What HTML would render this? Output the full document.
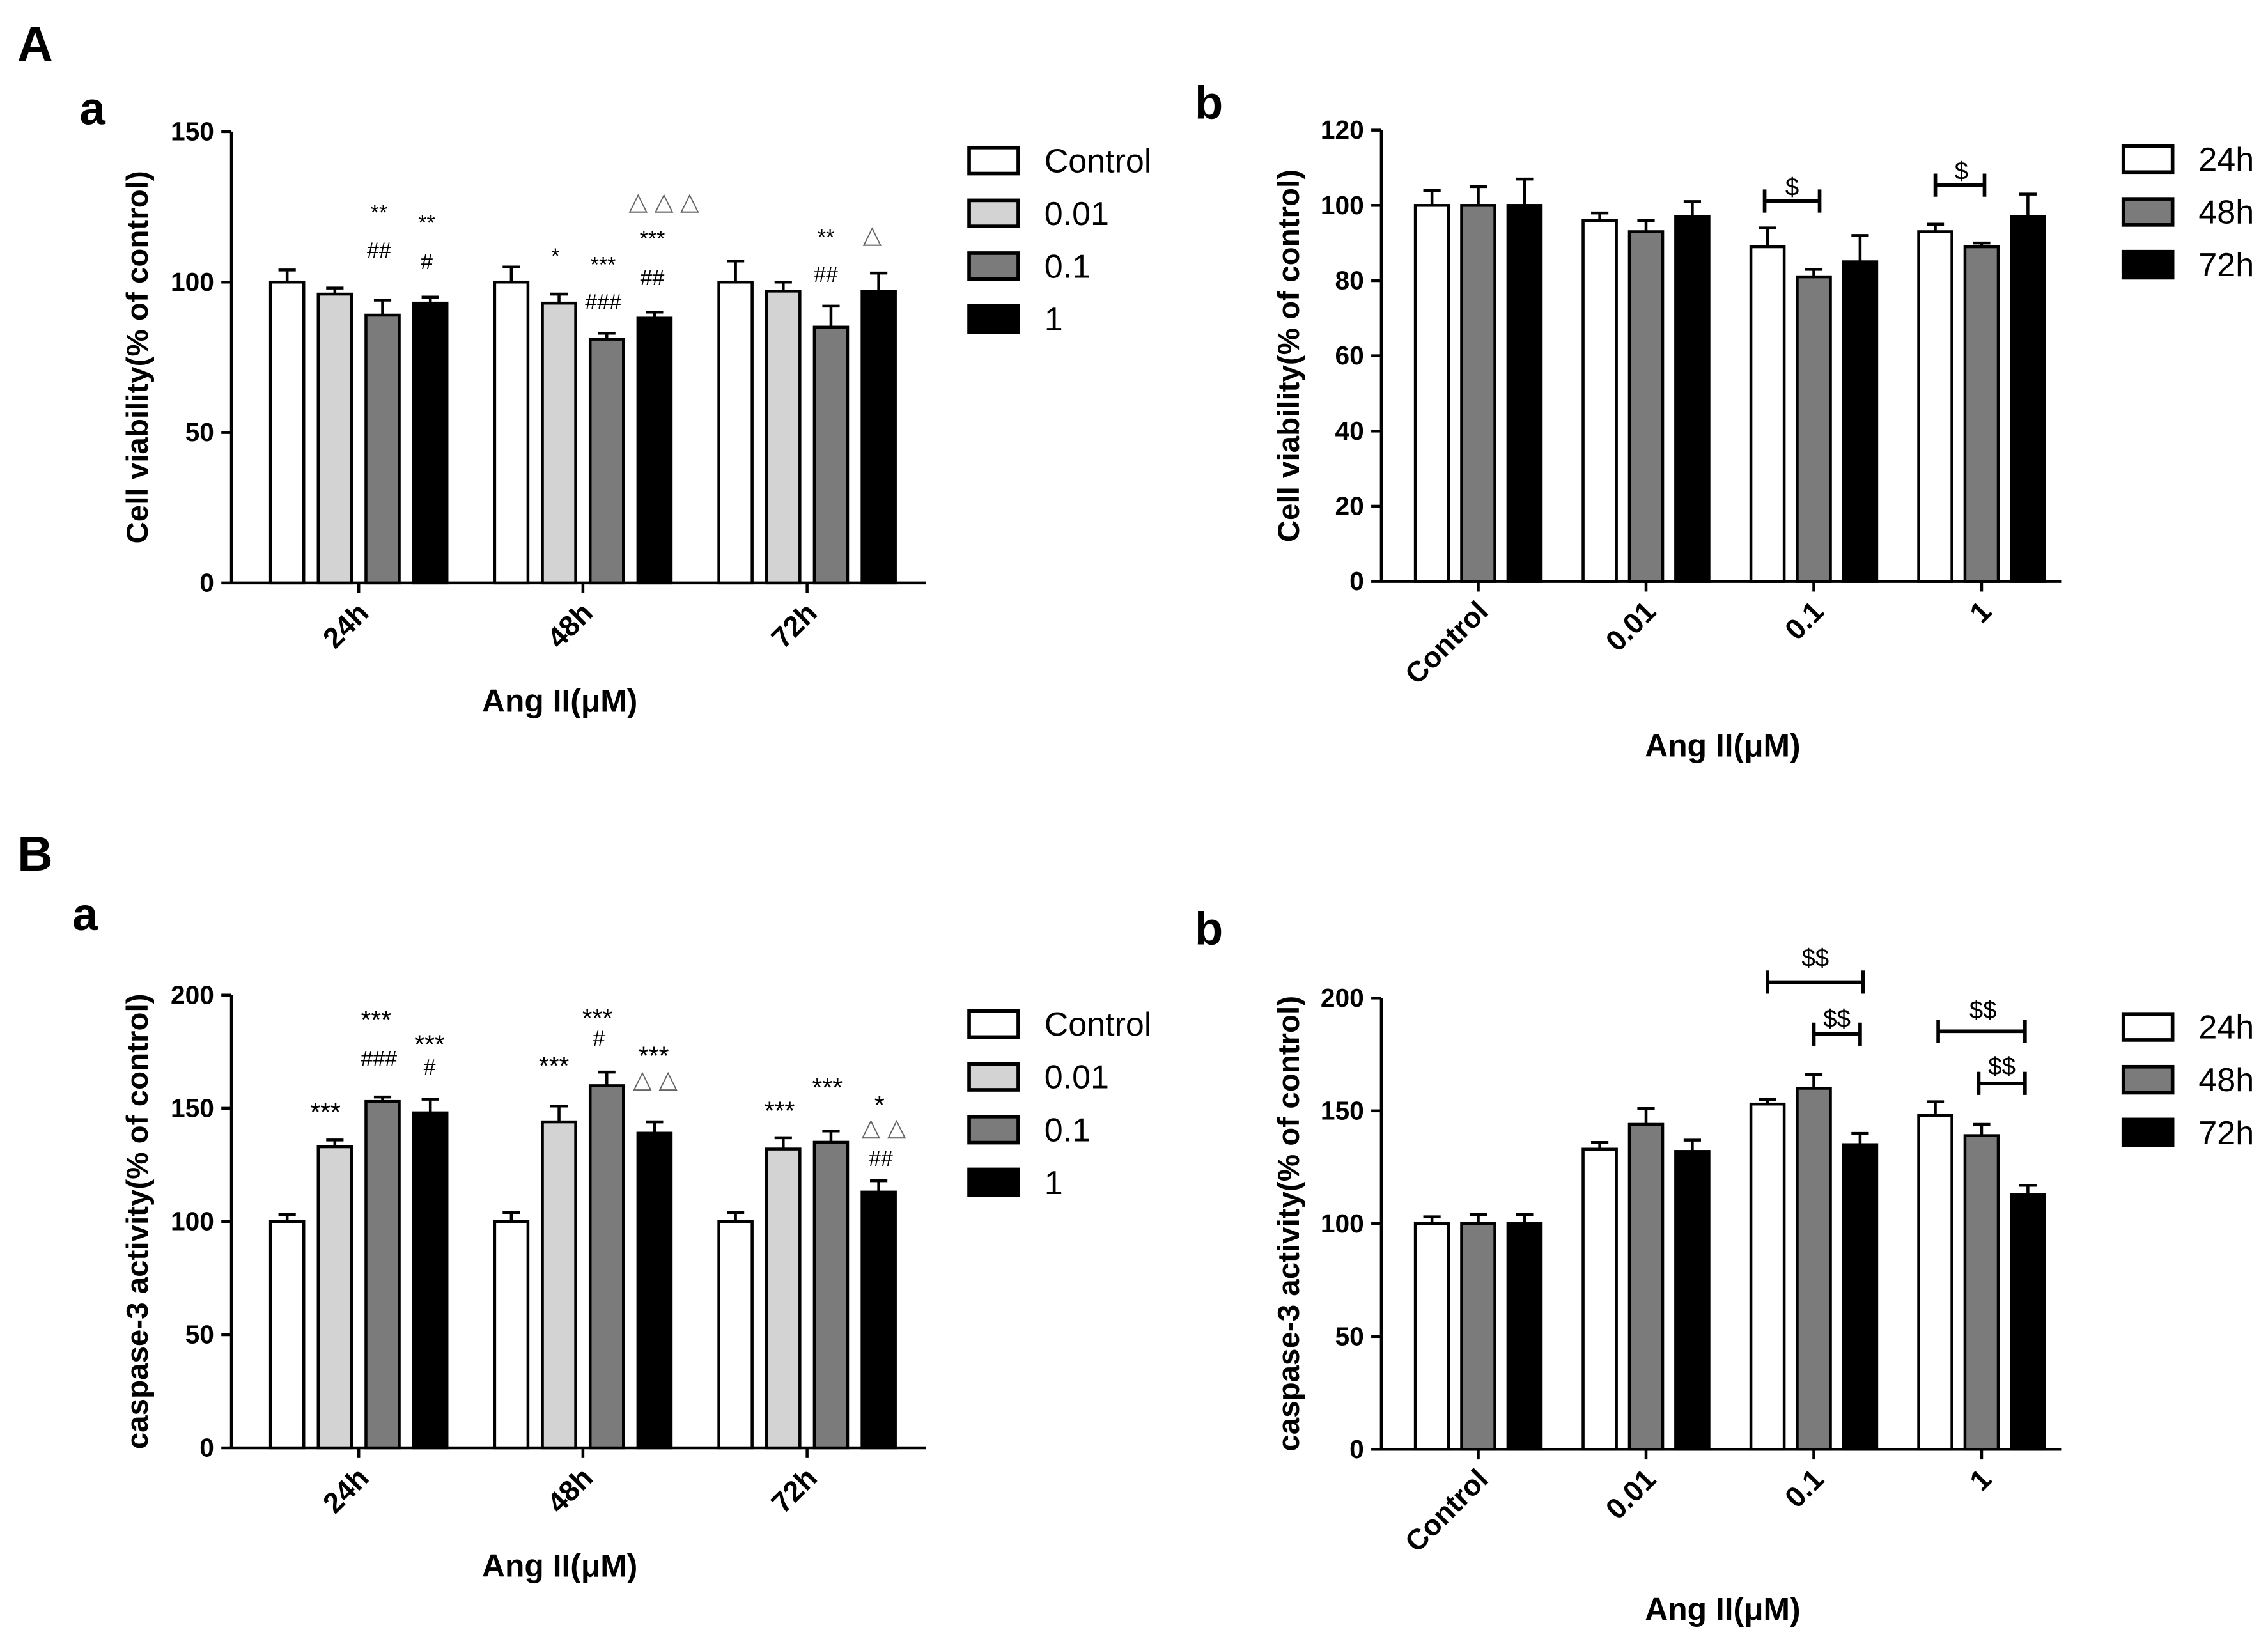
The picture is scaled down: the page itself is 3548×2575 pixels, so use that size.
<!DOCTYPE html>
<html><head><meta charset="utf-8"><style>
html,body{margin:0;padding:0;background:#fff}
svg{display:block}
text{font-family:"Liberation Sans",Arial,sans-serif}
</style></head><body>
<svg id="fig" width="3548" height="2575" viewBox="0 0 1568 1138" xmlns="http://www.w3.org/2000/svg">
<rect width="1568" height="1138" fill="#fff"/>
<g id="root"></g>
</svg>
<script>
// ---- data ----
const groupsTime = ["24h","48h","72h"];
const seriesDose = ["Control","0.01","0.1","1"];
const doseCats = ["Control","0.01","0.1","1"];
const seriesTime = ["24h","48h","72h"];
const viabByTime = [[100,96,89,93],[100,93,81,88],[100,97,85,97]];
const viabByTimeErr = [[4,2,5,2],[5,3,2,2],[7,3,7,6]];
const viabByDose = [[100,100,100],[96,93,97],[89,81,85],[93,89,97]];
const viabByDoseErr = [[4,5,7],[2,3,4],[5,2,7],[2,1,6]];
const caspByTime = [[100,133,153,148],[100,144,160,139],[100,132,135,113]];
const caspByTimeErr = [[3,3,2,6],[4,7,6,5],[4,5,5,5]];
const caspByDose = [[100,100,100],[133,144,132],[153,160,135],[148,139,113]];
const caspByDoseErr = [[3,4,4],[3,7,5],[2,6,5],[6,5,4]];
const ticksViabA = [0,50,100,150];
const ticksViabB = [0,20,40,60,80,100,120];
const ticksCasp = [0,50,100,150,200];

const fillsDose = ["#fff","#d3d3d3","#7b7b7b","#000"];
const fillsTime = ["#fff","#7b7b7b","#000"];
const NS="http://www.w3.org/2000/svg";
const root=document.getElementById('root');
function mk(tag,attrs,parent,txt){const e=document.createElementNS(NS,tag);for(const k in attrs)e.setAttribute(k,attrs[k]);if(txt!==undefined)e.textContent=txt;(parent||root).appendChild(e);return e;}

function panel(p){
  const g=mk('g',{});
  
  
  const y=v=>p.y0-(v-0)/p.ymax*(p.y0-p.ytop);
  const ya=mk('line',{x1:p.x0,y1:p.y0,x2:p.x0,y2:p.ytop,stroke:'#000','stroke-width':2},g);
  
  p.ticks.forEach(t=>{
    mk('line',{x1:p.x0-7,y1:y(t),x2:p.x0,y2:y(t),stroke:'#000','stroke-width':2},g);
    const tl=mk('text',{x:p.x0-12,y:y(t)+6,'text-anchor':'end','font-size':18,'font-weight':'bold'},g,t);
    
  });
  const xa=mk('line',{x1:p.x0,y1:p.y0,x2:p.x1,y2:p.y0,stroke:'#000','stroke-width':2},g);
  
  const n=p.cats.length, m=p.series.length;
  const gw=(p.gx1-p.gx0)/n;
  p.cats.forEach((c,i)=>{
    const cx=p.gx0+gw*(i+0.5);
    mk('line',{x1:cx,y1:p.y0,x2:cx,y2:p.y0+7,stroke:'#000','stroke-width':2},g);
    const tx=cx+8, ty=p.y0+22;
    const cl=mk('text',{x:tx,y:ty,'text-anchor':'end','font-size':20,'font-weight':'bold',transform:`rotate(-45 ${tx} ${ty})`},g,c);
    
    for(let j=0;j<m;j++){
      const bx=cx+(j-(m-1)/2)*p.step;
      const v=p.vals[i][j], e=p.errs[i][j];
      mk('line',{x1:bx,y1:y(v),x2:bx,y2:y(v+e),stroke:'#000','stroke-width':2},g);
      mk('line',{x1:bx-6,y1:y(v+e),x2:bx+6,y2:y(v+e),stroke:'#000','stroke-width':2},g);
      const b=mk('rect',{x:bx-p.bw/2,y:y(v),width:p.bw,height:p.y0-y(v),fill:p.fills[j],stroke:'#000','stroke-width':2},g);
      
    }
  });
  const xt=mk('text',{x:p.xTitleX,y:p.xTitleY,'text-anchor':'middle','font-size':22,'font-weight':'bold'},g,'Ang II(μM)');
  
  const yc=(p.y0+p.ytop)/2;
  const yt=mk('text',{x:p.yTitleX,y:yc,'text-anchor':'middle','font-size':21,'font-weight':'bold',transform:`rotate(-90 ${p.yTitleX} ${yc})`},g,p.ytitle);
  
  p.series.forEach((s,j)=>{
    const ly=p.legY+j*36.5;
    const lr=mk('rect',{x:p.legX,y:ly-9,width:34,height:18,fill:p.fills[j],stroke:'#000','stroke-width':2.5},g);
    
    const lt=mk('text',{x:p.legX+52,y:ly+8,'font-size':23},g,s);
    
  });
}
panel({name:'chart-A-a',x0:160,x1:640,gx0:170.5,gx1:635.5,y0:403,ytop:91,ymax:150,ticks:ticksViabA,cats:groupsTime,series:seriesDose,vals:viabByTime,errs:viabByTimeErr,fills:fillsDose,bw:23,step:33,xTitleX:387,xTitleY:492,yTitleX:102,ytitle:'Cell viability(% of control)',legX:670,legY:111});
panel({name:'chart-A-b',x0:955,x1:1425,gx0:964,gx1:1428,y0:402,ytop:90,ymax:120,ticks:ticksViabB,cats:doseCats,series:seriesTime,vals:viabByDose,errs:viabByDoseErr,fills:fillsTime,bw:23,step:32,xTitleX:1191,xTitleY:523,yTitleX:898,ytitle:'Cell viability(% of control)',legX:1468,legY:110});
panel({name:'chart-B-a',x0:160,x1:640,gx0:170.5,gx1:635.5,y0:1001,ytop:688,ymax:200,ticks:ticksCasp,cats:groupsTime,series:seriesDose,vals:caspByTime,errs:caspByTimeErr,fills:fillsDose,bw:23,step:33,xTitleX:387,xTitleY:1090,yTitleX:102,ytitle:'caspase-3 activity(% of control)',legX:670,legY:708});
panel({name:'chart-B-b',x0:955,x1:1425,gx0:964,gx1:1428,y0:1002,ytop:690,ymax:200,ticks:ticksCasp,cats:doseCats,series:seriesTime,vals:caspByDose,errs:caspByDoseErr,fills:fillsTime,bw:23,step:32,xTitleX:1191,xTitleY:1120,yTitleX:898,ytitle:'caspase-3 activity(% of control)',legX:1468,legY:710});

[['A',12,42,34],['a',55,86,32],['b',826,82,32],['B',12,602,34],['a',50,643,32],['b',826,653,32]].forEach(l=>{
  const t=mk('text',{x:l[1],y:l[2],'font-size':l[3],'font-weight':'bold'},root,l[0]);
  
});
const ann=[
['**',262,152,15,'#000'],['##',262,178,15,'#000'],['**',295,159,15,'#000'],['#',295,186,15,'#000'],
['*',384,182,15,'#000'],['***',417,188,15,'#000'],['###',417,214,15,'#000'],['***',451,170,15,'#000'],['##',451,197,15,'#000'],['△ △ △',459,145,17,'#666'],
['**',571,169,15,'#000'],['##',571,195,15,'#000'],['△',603,168,17,'#666'],
['***',225,775,18,'#000'],['***',260,711,18,'#000'],['###',262,737,15,'#000'],['***',297,728,18,'#000'],['#',297,743,15,'#000'],
['***',383,743,18,'#000'],['***',413,710,18,'#000'],['#',414,723,15,'#000'],['***',452,736,18,'#000'],['△ △',453,752,17,'#666'],
['***',539,774,18,'#000'],['***',572,758,18,'#000'],['*',608,770,18,'#000'],['△ △',611,785,17,'#666'],['##',609,806,15,'#000'],
['$',1239,135,17,'#000'],['$',1356,124,17,'#000'],
['$$',1255,668,17,'#000'],['$$',1270,710,17,'#000'],['$$',1371,704,17,'#000'],['$$',1384,743,17,'#000']
];
ann.forEach(a=>{
  const t=mk('text',{x:a[1],y:a[2],'text-anchor':'middle','font-size':a[3],fill:a[4]},root,a[0]);
  
});
[[1220,1258,139],[1338,1372,128],[1222,1288,679],[1254,1286,715],[1340,1400,713],[1368,1400,749]].forEach(b=>{
  const gg=mk('g',{});
  
  mk('line',{x1:b[0],y1:b[2],x2:b[1],y2:b[2],stroke:'#000','stroke-width':2.5},gg);
  mk('line',{x1:b[0],y1:b[2]-8,x2:b[0],y2:b[2]+8,stroke:'#000','stroke-width':2.5},gg);
  mk('line',{x1:b[1],y1:b[2]-8,x2:b[1],y2:b[2]+8,stroke:'#000','stroke-width':2.5},gg);
});
</script>
</body></html>
